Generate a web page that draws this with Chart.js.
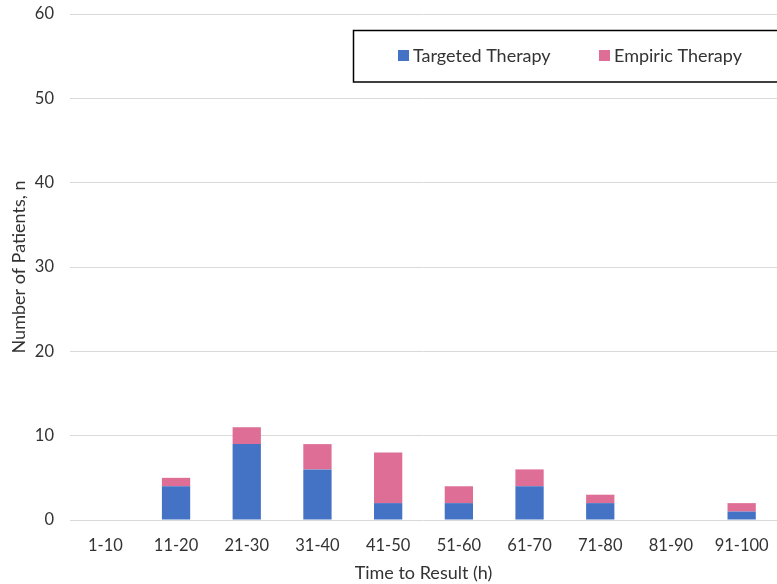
<!DOCTYPE html>
<html>
<head>
<meta charset="utf-8">
<script src="https://cdn.jsdelivr.net/npm/chart.js@4"></script>
<style>
html,body{margin:0;padding:0;background:#fff;}
#wrap{width:777px;height:584px;position:relative;}
</style>
</head>
<body>
<div id="wrap"><canvas id="c" width="777" height="584"></canvas></div>
<script>
const categories = ["1-10","11-20","21-30","31-40","41-50","51-60","61-70","71-80","81-90","91-100"];
const targeted = [0,4,9,6,2,2,4,2,0,1];
const empiric  = [0,1,2,3,6,2,2,1,0,1];
const seriesNames = ["Targeted Therapy","Empiric Therapy"];
const seriesColors = ["#4472C4","#DE6E96"];
const yTicksMax = 60, yStep = 10;

const FONT = "Lato, 'Open Sans', sans-serif";
const TXT = '#333333';

const boxLegend = {
  id: 'boxLegend',
  afterDraw(chart) {
    const ctx = chart.ctx;
    ctx.save();
    ctx.fillStyle = '#fff';
    ctx.fillRect(353, 30, 440, 52);
    ctx.strokeStyle = '#000';
    ctx.lineWidth = 1.5;
    ctx.strokeRect(353.5, 30.5, 440, 51.5);
    ctx.font = "18px " + FONT;
    ctx.textBaseline = 'middle';
    const xs = [398, 599];
    chart.data.datasets.forEach((ds, i) => {
      ctx.fillStyle = ds.backgroundColor;
      ctx.fillRect(xs[i], 50, 11, 11);
      ctx.fillStyle = TXT;
      ctx.fillText(ds.label, xs[i] + 15, 56);
    });
    ctx.restore();
  }
};

new Chart(document.getElementById('c'), {
  type: 'bar',
  data: {
    labels: categories,
    datasets: [
      {label: seriesNames[0], data: targeted, backgroundColor: seriesColors[0], barPercentage: 0.4, categoryPercentage: 1.0},
      {label: seriesNames[1], data: empiric, backgroundColor: seriesColors[1], barPercentage: 0.4, categoryPercentage: 1.0}
    ]
  },
  options: {
    responsive: false,
    animation: false,
    layout: {padding: {top: 14, right: 0, left: 0, bottom: 0}},
    plugins: {legend: {display: false}, tooltip: {enabled: false}},
    scales: {
      x: {
        stacked: true,
        grid: {display: false},
        border: {display: false},
        ticks: {color: TXT, font: {family: FONT, size: 16.5}, padding: 8},
        title: {display: true, text: 'Time to Result (h)', color: TXT, font: {family: FONT, size: 18}, padding: {top: 2, bottom: 0}},
        afterFit(s) { s.height = 64; s.paddingLeft = 0; s.paddingRight = 0; }
      },
      y: {
        stacked: true,
        min: 0, max: yTicksMax,
        ticks: {stepSize: yStep, color: TXT, font: {family: FONT, size: 16.5}, padding: 16},
        grid: {color: '#D9D9D9', lineWidth: 1, drawTicks: false},
        border: {display: false},
        title: {display: true, text: 'Number of Patients, n', color: TXT, font: {family: FONT, size: 18}, padding: {top: 8, bottom: 4}},
        afterFit(s) { s.width = 70; s.paddingTop = 0; s.paddingBottom = 0; }
      }
    }
  },
  plugins: [boxLegend]
});
</script>
</body>
</html>
